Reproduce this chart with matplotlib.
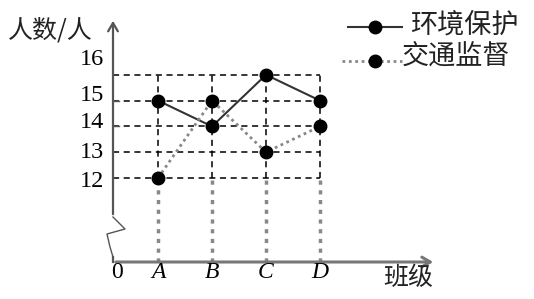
import matplotlib
matplotlib.use("Agg")
import matplotlib.pyplot as plt

# ---- data ----
categories = ["A", "B", "C", "D"]
env_values = [15, 14, 16, 15]        # 环境保护
traffic_values = [12, 15, 13, 14]    # 交通监督
y_ticks = [12, 13, 14, 15, 16]
y_tick_labels = ["12", "13", "14", "15", "16"]
series_names = ["环境保护", "交通监督"]
x_label = "班级"
y_label = "人数/人"

CJK = ["Noto Sans CJK SC", "DejaVu Sans"]
SERIF = "Liberation Serif"

fig = plt.figure(figsize=(5.34, 2.99), dpi=100)
ax = fig.add_axes([0, 0, 1, 1])
ax.set_axis_off()

# mapping: A at 158px, 54px per category; 12 at 178px from top, 25.8 px per unit
PX_X, PX_Y = 54.0, 25.8
x0_px, y12_px = 158.0, 178.0
def px2x(p): return 1 + (p - x0_px) / PX_X
def px2y(p): return 12 + (y12_px - p) / PX_Y
ax.set_xlim(px2x(0), px2x(534))
ax.set_ylim(px2y(299), px2y(0))

xs = list(range(1, len(categories) + 1))
yaxis_x = px2x(113)
zero_y = px2y(262)

# axes
ax.annotate("", xy=(yaxis_x, px2y(18)), xytext=(yaxis_x, px2y(217)),
            arrowprops=dict(arrowstyle="->,head_length=0.6,head_width=0.35", color="#555555", lw=1.6))
ax.plot([yaxis_x, yaxis_x], [px2y(257), zero_y], color="#555555", lw=1.6)
# axis break zigzag
ax.plot([yaxis_x, px2x(125), px2x(107), px2x(110), yaxis_x],
        [px2y(217), px2y(229), px2y(234), px2y(247), px2y(257)], color="#555555", lw=1.0)
ax.annotate("", xy=(px2x(436), zero_y), xytext=(yaxis_x, zero_y),
            arrowprops=dict(arrowstyle="->,head_length=0.6,head_width=0.35", color="#777777", lw=2.2))

# grid: horizontal dashed lines
for v in y_ticks:
    ax.plot([yaxis_x, xs[-1]], [v, v], color="black", lw=1.1, ls=(0, (4, 3)), zorder=1)
# vertical dashed above 12, gray dotted below
for x in xs:
    ax.plot([x, x], [y_ticks[0], y_ticks[-1]], color="black", lw=1.1, ls=(0, (4, 3)), zorder=1)
    ax.plot([x, x], [zero_y, y_ticks[0]], color="#888888", lw=2.5, ls=(0, (1.2, 1.6)), zorder=1)

# small ticks
for v in (14, 15):
    ax.plot([yaxis_x, yaxis_x + 0.12], [v, v], color="#555555", lw=1.0)

# series
ax.plot(xs, env_values, color="#333333", lw=1.5, marker="o", ms=9,
        mfc="black", mec="black", zorder=3)
ax.plot(xs, traffic_values, color="#888888", lw=2.0, ls=(0, (1, 1.3)), marker="o", ms=9,
        mfc="black", mec="black", zorder=3)

# tick labels (drawn slightly above their grid lines, as in the reference)
label_shift_px = {16: 15, 15: 5, 14: 4, 13: 0, 12: -3}
for v, t in zip(y_ticks, y_tick_labels):
    ax.text(px2x(104), v + label_shift_px[v] / PX_Y, t,
            family=SERIF, fontsize=17.5, ha="right", va="center")
for x, c in zip(xs, categories):
    ax.text(x, px2y(273), c, family=SERIF, style="italic", fontsize=17, ha="center", va="center")
ax.text(px2x(117), px2y(273), "0", family=SERIF, fontsize=17, ha="center", va="center")

# axis titles
ax.text(px2x(8), px2y(30), y_label, family=CJK, fontsize=18, ha="left", va="center", color="#222222")
ax.text(px2x(383), px2y(278), x_label, family=CJK, fontsize=18, ha="left", va="center", color="#222222")

# legend
ax.plot([px2x(348), px2x(402)], [px2y(27), px2y(27)], color="#333333", lw=1.5)
ax.plot([px2x(375)], [px2y(27)], "o", color="black", ms=9)
ax.text(px2x(410), px2y(25), series_names[0], family=CJK, fontsize=19.5, ha="left", va="center", color="#222222")
ax.plot([px2x(342), px2x(402)], [px2y(61), px2y(61)], color="#888888", lw=2.0, ls=(0, (1, 1.3)))
ax.plot([px2x(375)], [px2y(61)], "o", color="black", ms=9)
ax.text(px2x(402), px2y(57), series_names[1], family=CJK, fontsize=19.5, ha="left", va="center", color="#222222")

fig.savefig("out.png", dpi=100)
